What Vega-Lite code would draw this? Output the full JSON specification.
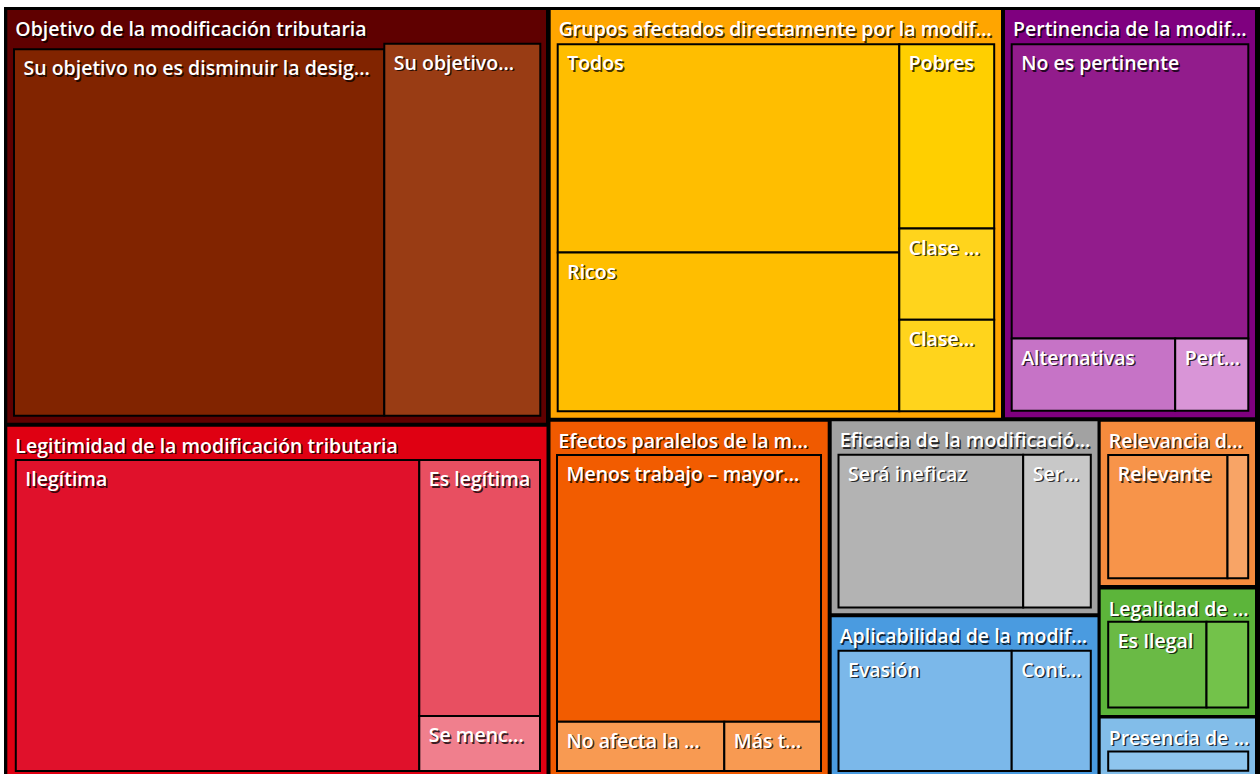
{
  "$schema": "https://vega.github.io/schema/vega-lite/v6.json",
  "width": 1260,
  "height": 774,
  "autosize": {"type": "fit", "contains": "padding"},
  "padding": {"left": 4, "top": 7, "right": 0, "bottom": 0},
  "background": "white",
  "config": {"view": {"stroke": null, "fill": "black"}},
  "data": {"values": [
    {"id": "g1", "level": "group", "label": "Objetivo de la modificación tributaria", "x0": 7.3, "x1": 546, "y0": 10, "y1": 422.7},
    {"id": "g2", "level": "group", "label": "Grupos afectados directamente por la modif...", "x0": 550.7, "x1": 1001, "y0": 10, "y1": 417.7},
    {"id": "g3", "level": "group", "label": "Pertinencia de la modif...", "x0": 1005, "x1": 1255, "y0": 10, "y1": 417.2},
    {"id": "g4", "level": "group", "label": "Legitimidad de la modificación tributaria", "x0": 7.3, "x1": 546.5, "y0": 426.7, "y1": 774},
    {"id": "g5", "level": "group", "label": "Efectos paralelos de la m...", "x0": 550.5, "x1": 827.7, "y0": 421.7, "y1": 774},
    {"id": "g6", "level": "group", "label": "Eficacia de la modificació...", "x0": 831.7, "x1": 1097.5, "y0": 421.2, "y1": 613.3},
    {"id": "g7", "level": "group", "label": "Aplicabilidad de la modif...", "x0": 831.7, "x1": 1097.5, "y0": 617.3, "y1": 774},
    {"id": "g8", "level": "group", "label": "Relevancia d...", "x0": 1100.7, "x1": 1255, "y0": 421.7, "y1": 585},
    {"id": "g9", "level": "group", "label": "Legalidad de ...", "x0": 1100.7, "x1": 1255, "y0": 589.5, "y1": 715},
    {"id": "g10", "level": "group", "label": "Presencia de ...", "x0": 1100.7, "x1": 1255, "y0": 718.5, "y1": 774},

    {"id": "l1a", "level": "leaf", "label": "Su objetivo no es disminuir la desig...", "x0": 14, "x1": 384.3, "y0": 49.2, "y1": 415.8},
    {"id": "l1b", "level": "leaf", "label": "Su objetivo...", "x0": 384.3, "x1": 540.3, "y0": 43.7, "y1": 415.8},
    {"id": "l2a", "level": "leaf", "label": "Todos", "x0": 557.7, "x1": 899.3, "y0": 44.3, "y1": 252.5},
    {"id": "l2b", "level": "leaf", "label": "Ricos", "x0": 557.7, "x1": 899.3, "y0": 252.5, "y1": 411.3},
    {"id": "l2c", "level": "leaf", "label": "Pobres", "x0": 899.3, "x1": 994.2, "y0": 44.3, "y1": 228.5},
    {"id": "l2d", "level": "leaf", "label": "Clase ...", "x0": 899.3, "x1": 994.2, "y0": 228.5, "y1": 319.8},
    {"id": "l2e", "level": "leaf", "label": "Clase...", "x0": 899.3, "x1": 994.2, "y0": 319.8, "y1": 411.3},
    {"id": "l3a", "level": "leaf", "label": "No es pertinente", "x0": 1011.7, "x1": 1248.3, "y0": 44.3, "y1": 338.5},
    {"id": "l3b", "level": "leaf", "label": "Alternativas", "x0": 1011.7, "x1": 1175.2, "y0": 338.5, "y1": 410.8},
    {"id": "l3c", "level": "leaf", "label": "Pert...", "x0": 1175.2, "x1": 1248.3, "y0": 338.5, "y1": 410.8},
    {"id": "l4a", "level": "leaf", "label": "Ilegítima", "x0": 15.8, "x1": 419.3, "y0": 460, "y1": 771},
    {"id": "l4b", "level": "leaf", "label": "Es legítima", "x0": 419.3, "x1": 540, "y0": 460, "y1": 716},
    {"id": "l4c", "level": "leaf", "label": "Se menc...", "x0": 419.3, "x1": 540, "y0": 716, "y1": 771},
    {"id": "l5a", "level": "leaf", "label": "Menos trabajo – mayor...", "x0": 557, "x1": 821, "y0": 455, "y1": 721.8},
    {"id": "l5b", "level": "leaf", "label": "No afecta la ...", "x0": 557, "x1": 724.3, "y0": 721.8, "y1": 771},
    {"id": "l5c", "level": "leaf", "label": "Más t...", "x0": 724.3, "x1": 821, "y0": 721.8, "y1": 771},
    {"id": "l6a", "level": "leaf", "label": "Será ineficaz", "x0": 838.5, "x1": 1023.2, "y0": 454.8, "y1": 607.5},
    {"id": "l6b", "level": "leaf", "label": "Ser...", "x0": 1023.2, "x1": 1090.8, "y0": 454.8, "y1": 607.5},
    {"id": "l7a", "level": "leaf", "label": "Evasión", "x0": 838.5, "x1": 1011.7, "y0": 650.8, "y1": 771},
    {"id": "l7b", "level": "leaf", "label": "Cont...", "x0": 1011.7, "x1": 1090.8, "y0": 650.8, "y1": 771},
    {"id": "l8a", "level": "leaf", "label": "Relevante", "x0": 1108.2, "x1": 1227.5, "y0": 455, "y1": 578.2},
    {"id": "l8b", "level": "leaf", "label": "", "x0": 1227.5, "x1": 1248.2, "y0": 455, "y1": 578.2},
    {"id": "l9a", "level": "leaf", "label": "Es Ilegal", "x0": 1108.2, "x1": 1206.5, "y0": 621.8, "y1": 707.5},
    {"id": "l9b", "level": "leaf", "label": "", "x0": 1206.5, "x1": 1248.2, "y0": 621.8, "y1": 707.5},
    {"id": "l10a", "level": "leaf", "label": "", "x0": 1108.2, "x1": 1248.2, "y0": 751.5, "y1": 770.8}
  ]},
  "encoding": {
    "x": {"field": "x0", "type": "quantitative", "axis": null, "scale": {"domain": [4, 1260], "nice": false, "zero": false}},
    "y": {"field": "y0", "type": "quantitative", "axis": null, "scale": {"domain": [7, 774], "nice": false, "zero": false, "reverse": true}}
  },
  "layer": [
    {
      "transform": [{"filter": "datum.level === 'group'"}],
      "mark": {"type": "rect"},
      "encoding": {
        "x2": {"field": "x1"},
        "y2": {"field": "y1"},
        "color": {"field": "id", "type": "nominal", "legend": null, "scale": {
          "domain": ["g1","g2","g3","g4","g5","g6","g7","g8","g9","g10","l1a","l1b","l2a","l2b","l2c","l2d","l2e","l3a","l3b","l3c","l4a","l4b","l4c","l5a","l5b","l5c","l6a","l6b","l7a","l7b","l8a","l8b","l9a","l9b","l10a"],
          "range": ["#5f0000","#ffa500","#7f007f","#df0012","#f05a00","#a2a2a2","#4a9be0","#f58b3d","#5cb53a","#82bde9","#812400","#993c14","#ffbe00","#ffbe00","#ffcf00","#ffd41c","#ffd41c","#921c8c","#c673c6","#d995d7","#e0112b","#e84f61","#f07f8d","#f25c00","#f89a52","#f89a52","#b3b3b3","#c8c8c8","#7bb8ea","#7bb8ea","#f7944a","#f8a466","#6aba45","#73c24a","#8ec5ee"]
        }}
      }
    },
    {
      "transform": [{"filter": "datum.level === 'leaf'"}],
      "mark": {"type": "rect", "stroke": "black", "strokeWidth": 2},
      "encoding": {
        "x2": {"field": "x1"},
        "y2": {"field": "y1"},
        "color": {"field": "id", "type": "nominal", "legend": null}
      }
    },
    {
      "transform": [{"filter": "datum.level === 'group'"}],
      "mark": {"type": "text", "align": "left", "baseline": "alphabetic", "dx": 9.5, "dy": 27.5, "font": "Open Sans", "fontWeight": 600, "fontSize": 19.5, "fill": "black", "opacity": 0.75},
      "encoding": {"text": {"field": "label"}}
    },
    {
      "transform": [{"filter": "datum.level === 'group'"}],
      "mark": {"type": "text", "align": "left", "baseline": "alphabetic", "dx": 8, "dy": 26, "font": "Open Sans", "fontWeight": 600, "fontSize": 19.5, "fill": "white"},
      "encoding": {"text": {"field": "label"}}
    },
    {
      "transform": [{"filter": "datum.level === 'leaf' && datum.label !== ''"}],
      "mark": {"type": "text", "align": "left", "baseline": "alphabetic", "dx": 11, "dy": 27.5, "font": "Open Sans", "fontWeight": 600, "fontSize": 19.5, "fill": "black", "opacity": 0.75},
      "encoding": {"text": {"field": "label"}}
    },
    {
      "transform": [{"filter": "datum.level === 'leaf' && datum.label !== ''"}],
      "mark": {"type": "text", "align": "left", "baseline": "alphabetic", "dx": 9.5, "dy": 26, "font": "Open Sans", "fontWeight": 600, "fontSize": 19.5, "fill": "white"},
      "encoding": {"text": {"field": "label"}}
    }
  ]
}
